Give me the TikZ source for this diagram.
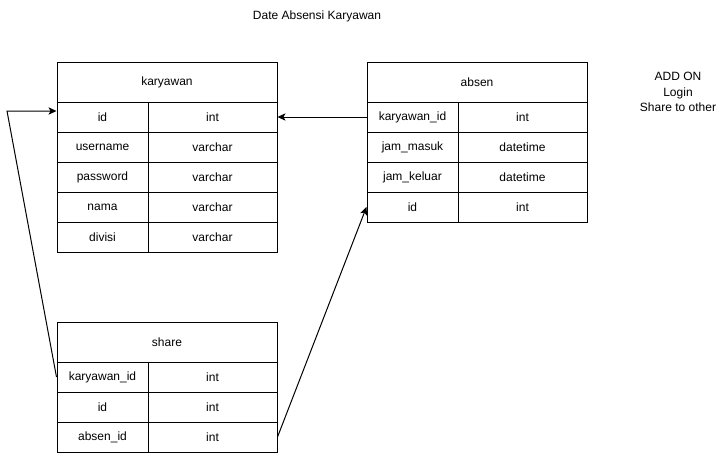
\documentclass[tikz,border=0pt]{standalone}
\usepackage{fontspec}
\setmainfont{Liberation Sans}
\usetikzlibrary{arrows.meta}
\begin{document}
\begin{tikzpicture}[x=0.75pt,y=-0.75pt,
  cell/.style={draw, line width=0.75pt, inner sep=0pt, minimum height=22.5pt, font=\fontsize{9}{10.5}\selectfont},
  lcell/.style={cell, minimum width=68.25pt},
  rcell/.style={cell, minimum width=96.75pt},
  head/.style={cell, minimum width=165pt, minimum height=30pt},
  conn/.style={draw, line width=0.75pt, -{Stealth[length=6pt,width=5.5pt,inset=1.5pt]}},
  lbl/.style={font=\fontsize{9}{11.5}\selectfont, inner sep=0pt}]
\useasboundingbox (0,0) rectangle (728,454);
\fill[white] (0,0) rectangle (728,454);

\node[lbl] (title) at (317,16) {Date Absensi Karyawan};
\node[lbl, align=center] (addon) at (678,92) {ADD ON\\Login\\Share to other};

% karyawan
\node[head] (kh) at (167,82) {karyawan};
\node[lcell] (k1l) at (102.5,117) {id};        \node[rcell] (k1r) at (212.5,117) {int};
\node[lcell] (k2l) at (102.5,147) {username};  \node[rcell] (k2r) at (212.5,147) {varchar};
\node[lcell] (k3l) at (102.5,177) {password};  \node[rcell] (k3r) at (212.5,177) {varchar};
\node[lcell] (k4l) at (102.5,207) {nama};      \node[rcell] (k4r) at (212.5,207) {varchar};
\node[lcell] (k5l) at (102.5,237) {divisi};    \node[rcell] (k5r) at (212.5,237) {varchar};

% absen
\node[head] (ah) at (477,82) {absen};
\node[lcell] (a1l) at (412.5,117) {karyawan\_id}; \node[rcell] (a1r) at (522.5,117) {int};
\node[lcell] (a2l) at (412.5,147) {jam\_masuk};   \node[rcell] (a2r) at (522.5,147) {datetime};
\node[lcell] (a3l) at (412.5,177) {jam\_keluar};  \node[rcell] (a3r) at (522.5,177) {datetime};
\node[lcell] (a4l) at (412.5,207) {id};           \node[rcell] (a4r) at (522.5,207) {int};

% share
\node[head] (sh) at (167,342) {share};
\node[lcell] (s1l) at (102.5,377) {karyawan\_id}; \node[rcell] (s1r) at (212.5,377) {int};
\node[lcell] (s2l) at (102.5,407) {id};           \node[rcell] (s2r) at (212.5,407) {int};
\node[lcell] (s3l) at (102.5,437) {absen\_id};    \node[rcell] (s3r) at (212.5,437) {int};

% connectors
\draw[conn] (a1l.west) -- (k1r.east);
\coordinate (c1) at (7,111);
\draw[conn] (s1l.west) -- (c1) -- (c1 -| k1l.west);
\draw[conn] (s3r.east) -- (a4l.west);
\end{tikzpicture}
\end{document}
